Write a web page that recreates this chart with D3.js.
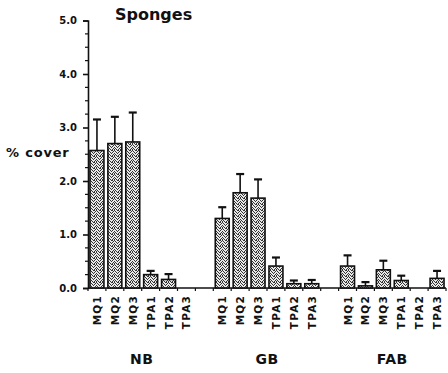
<!DOCTYPE html>
<html>
<head>
<meta charset="utf-8">
<script src="https://cdn.jsdelivr.net/npm/d3@7"></script>
<style>
  html, body { margin: 0; padding: 0; background: #fff; }
  svg text { font-family: "DejaVu Sans", "Liberation Sans", Arial, sans-serif; font-weight: bold; fill: #111; }
</style>
</head>
<body>
<svg id="chart" width="448" height="373"></svg>
<script>
// Sponge percent cover by site and transect
const groups = ["NB", "GB", "FAB"];
const categories = ["MQ1", "MQ2", "MQ3", "TPA1", "TPA2", "TPA3"];
const meanNB  = [2.57, 2.70, 2.73, 0.25, 0.16, 0];
const meanGB  = [1.30, 1.78, 1.68, 0.41, 0.08, 0.08];
const meanFAB = [0.41, 0.04, 0.34, 0.14, 0, 0.18];
const seNB  = [0.58, 0.50, 0.55, 0.07, 0.10, 0];
const seGB  = [0.21, 0.35, 0.35, 0.16, 0.06, 0.07];
const seFAB = [0.20, 0.07, 0.17, 0.09, 0, 0.14];
const yTicks = [0, 1, 2, 3, 4, 5];

const means = { NB: meanNB, GB: meanGB, FAB: meanFAB };
const ses = { NB: seNB, GB: seGB, FAB: seFAB };
const rows = groups.flatMap(g => categories.map((c, i) => ({ group: g, cat: c, mean: means[g][i], se: ses[g][i] })));

const svg = d3.select("#chart");
const plotLeft = 88, plotRight = 446, plotTop = 20.5, base = 288;

const y = d3.scaleLinear().domain([0, 5]).range([base, plotTop]);
const x0 = d3.scaleBand().domain(groups).range([plotLeft, plotRight]).paddingInner(1 / 7).paddingOuter(0);
const x1 = d3.scaleBand().domain(categories).range([0, x0.bandwidth()]).paddingInner(0.22).paddingOuter(0.11);

// stipple fill: scattered dots on a 6x6 tile
const defs = svg.append("defs");
const pat = defs.append("pattern").attr("id", "stip").attr("patternUnits", "userSpaceOnUse")
  .attr("width", 6).attr("height", 6);
pat.append("rect").attr("width", 6).attr("height", 6).attr("fill", "#e8e8e8");
const dots = [[0,0],[3,0],[1,1],[5,1],[2,2],[4,2],[0,3],[3,3],[1,4],[5,4],[2,5],[4,5],[0,5],[4,0]];
dots.forEach(([a, b]) =>
  pat.append("rect").attr("x", a).attr("y", b).attr("width", 1).attr("height", 1).attr("fill", "#333"));

// y axis
const yAxis = d3.axisLeft(y).tickValues(yTicks).tickSize(5).tickFormat(d3.format(".1f"));
const gy = svg.append("g").attr("transform", `translate(${plotLeft},0)`).call(yAxis);
gy.select(".domain").attr("stroke", "#111").attr("stroke-width", 1.6);
gy.selectAll(".tick line").attr("stroke", "#111").attr("stroke-width", 1.6);
gy.selectAll(".tick text").attr("font-size", 10).attr("x", -11)
  .style("font-family", "'DejaVu Sans', Arial, sans-serif").style("font-weight", "bold").style("fill", "#111");
const minor = d3.range(0, 5, 0.25).filter(v => v % 1 !== 0);
svg.append("g").selectAll("line").data(minor).join("line")
  .attr("x1", plotLeft - 3).attr("x2", plotLeft).attr("y1", d => y(d)).attr("y2", d => y(d))
  .attr("stroke", "#111").attr("stroke-width", 1.2);

// x baseline with slot ticks
svg.append("line").attr("x1", plotLeft).attr("x2", plotRight).attr("y1", base).attr("y2", base)
  .attr("stroke", "#111").attr("stroke-width", 1.6);
const step = x1.step();
svg.append("g").selectAll("line").data(d3.range(0, 21)).join("line")
  .attr("x1", k => plotLeft + k * step).attr("x2", k => plotLeft + k * step)
  .attr("y1", base).attr("y2", base + 3).attr("stroke", "#111").attr("stroke-width", 1.2);

// bars
const bx = d => x0(d.group) + x1(d.cat);
svg.append("g").selectAll("rect").data(rows.filter(d => d.mean > 0)).join("rect")
  .attr("x", bx).attr("width", x1.bandwidth())
  .attr("y", d => y(d.mean)).attr("height", d => base - y(d.mean))
  .attr("fill", "url(#stip)").attr("stroke", "#111").attr("stroke-width", 1.6);

// error bars
const eb = svg.append("g").selectAll("g").data(rows.filter(d => d.se > 0)).join("g");
eb.append("line")
  .attr("x1", d => bx(d) + x1.bandwidth() / 2).attr("x2", d => bx(d) + x1.bandwidth() / 2)
  .attr("y1", d => y(d.mean)).attr("y2", d => y(d.mean + d.se))
  .attr("stroke", "#111").attr("stroke-width", 1.6);
eb.append("line")
  .attr("x1", d => bx(d) + x1.bandwidth() / 2 - 4).attr("x2", d => bx(d) + x1.bandwidth() / 2 + 4)
  .attr("y1", d => y(d.mean + d.se)).attr("y2", d => y(d.mean + d.se))
  .attr("stroke", "#111").attr("stroke-width", 2.2);

// category labels
svg.append("g").selectAll("text").data(rows).join("text")
  .attr("transform", d => `translate(${bx(d) + x1.bandwidth() / 2 + 4},${base + 7}) rotate(-90)`)
  .attr("text-anchor", "end").attr("font-size", 10.5).attr("letter-spacing", 1.2)
  .text(d => d.cat);

// group labels
svg.append("g").selectAll("text").data(groups).join("text")
  .attr("x", g => x0(g) + x0.bandwidth() / 2).attr("y", 364)
  .attr("text-anchor", "middle").attr("font-size", 14).attr("letter-spacing", 0.5)
  .text(g => g);

// axis title and chart title
svg.append("text").attr("x", 6).attr("y", 157).attr("font-size", 13).attr("letter-spacing", 0.8).text("% cover");
svg.append("text").attr("x", 115).attr("y", 20).attr("font-size", 16).text("Sponges");
</script>
</body>
</html>
